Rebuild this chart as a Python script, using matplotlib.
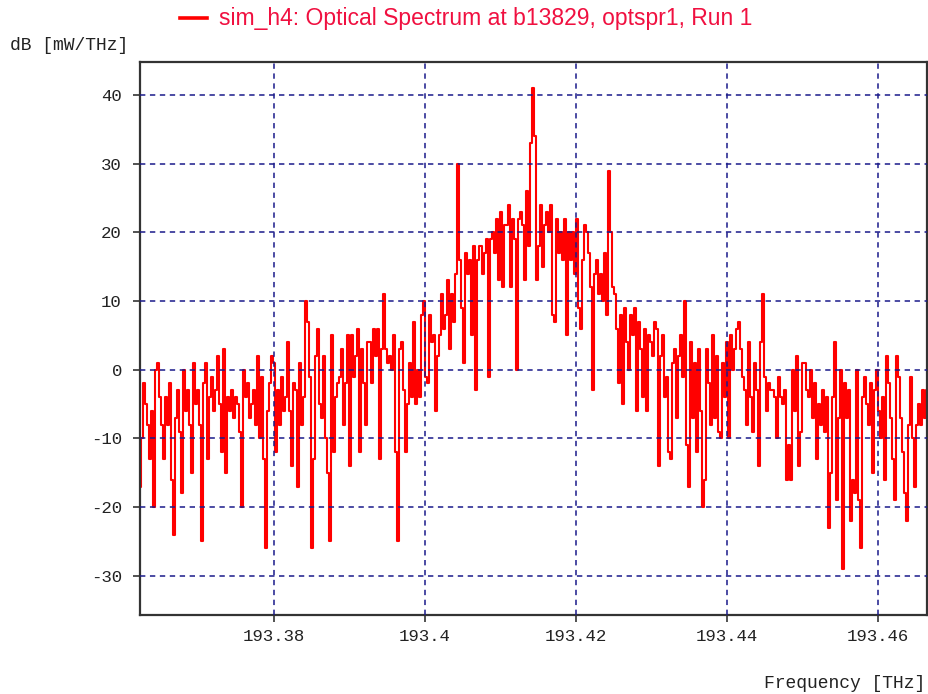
import numpy as np
import matplotlib
matplotlib.use("Agg")
import matplotlib.pyplot as plt
from matplotlib.lines import Line2D

# ---- data ----
f_start = 193.3623     # THz, first sample
f_step = 0.000265      # THz, sample spacing

power_seg1 = [-17, -10, -2, -5, -8, -13, -6, -20, 0, 1,
              -4, -8, -13, -4, -8, -2, -16, -24, -7, -3,
              -9, -18, 0, -6, -3, -8, -15, 1, -5, -3,
              -8, -25, -2, 1, -13, -4, -1, -6, -3, 2,
              -5, -12, 3, -15, -4, -6, -3, -7, -4, -5,
              -9, -20, 0, -4, -2, -7, -5, -3, -8, 2,
              -10, -1, -13, -26, -6, -2, 2, 1]
power_seg2 = [-12, -3, -8, -1, -6, -4, 4, -6, -14, -2,
              -3, -17, 1, -8, -4, 10, 7, -1, -26, -13,
              2, 6, -5, -7, 2, -10, -15, -25, 5, -12,
              -4, -2, -1, 3, -8, -2, 5, -14, 5, -1,
              2, 6, -12, 3, -2, -8, 4, 4, -2, 6,
              2, 6, -13, 3, 11, 3, 1, 2, 0, 5,
              -12, -25, 3, 4, -3, -12, -5]
power_seg3 = [1, -4, 7, -5, 0, -4, 8, 10, -1, -2,
              8, 4, 5, -6, 2, 5, 11, 6, 8, 13,
              3, 11, 7, 14, 30, 16, 9, 1, 17, 14,
              16, 5, 18, -3, 16, 18, 14, 17, 19, -1,
              19, 20, 17, 22, 13, 23, 12, 21, 21, 24,
              12, 22, 19, 0, 22, 23, 21]
power_seg4 = [13, 26, 18, 33, 41, 34, 13, 18, 24, 15,
              21, 23, 20, 24, 8, 7, 22, 17, 20, 16,
              22, 5, 20, 16, 20, 14, 22, 9, 6, 16,
              21, 20, 17, 12, -3, 14, 16, 11, 14, 10,
              17, 8, 29, 20, 12, 11, 6, -2, 8, -5,
              9, 4, 0, 8, 5, 9, -6, 7, 3, -4,
              6, -6, 5, 4, 2, 7]
power_seg5 = [6, -14, 2, 5, -4, -1, -12, -13, 1, 3,
              -7, 2, 5, -1, 10, -11, -17, 4, -7, 1,
              -12, 3, -6, -20, -16, 3, -2, -8, 5, -7,
              2, -9, -10, 1, -4, 4, -10, 5, 0, 3,
              6, 7, 3, -1, -3, -8, 4, -4, -9, 1,
              -3, -14, 4, 11, -1, -6, -2, -3, -3, -4,
              -10, -1, -4, -5]
power_seg6 = [-3, -16, -11, -16, 0, -6, 2, -14, -9, 1,
              1, -3, -4, 0, -7, -2, -13, -5, -8, -3,
              -9, -4, -23, -15, -4, 4, -19, -7, 0, -29,
              -2, -7, -3, -22, -16, -18, 0, -19, -26, -4,
              -1, -5, -8, -2, -15, -3, 0, -6, -10, -4,
              -16, 2, -2, -7, -13, -19, 2, -1, -7, -12,
              -18, -22, -8, -1, -10, -17, -8, -5, -8, -3,
              -7, -3]

x_ticks = [193.38, 193.40, 193.42, 193.44, 193.46]
x_tick_labels = ["193.38", "193.4", "193.42", "193.44", "193.46"]
y_ticks = [-30, -20, -10, 0, 10, 20, 30, 40]
y_tick_labels = ["-30", "-20", "-10", "0", "10", "20", "30", "40"]

title_text = "sim_h4: Optical Spectrum at b13829, optspr1, Run 1"
y_label = "dB [mW/THz]"
x_label = "Frequency [THz]"

# ---- build series ----
power = np.array(power_seg1 + power_seg2 + power_seg3 +
                 power_seg4 + power_seg5 + power_seg6, dtype=float)
freq = f_start + f_step * np.arange(len(power))

# ---- figure ----
fig = plt.figure(figsize=(9.29, 6.94), dpi=100)
fig.patch.set_facecolor("white")
ax = fig.add_axes([140 / 929, 79 / 694, 787 / 929, 553 / 694])

ax.plot(freq, power, color="#ff0000", lw=1.5, drawstyle="steps-mid",
        zorder=2)

ax.set_xlim(193.36225, 193.46649)
ax.set_ylim(-35.7, 44.8)

ax.set_xticks(x_ticks)
ax.set_xticklabels(x_tick_labels)
ax.set_yticks(y_ticks)
ax.set_yticklabels(y_tick_labels)

mono = "Liberation Mono"
ax.tick_params(axis="both", direction="out", length=5, width=1.2,
               color="#333333", labelsize=12.5)
ax.tick_params(axis="y", pad=8)
ax.tick_params(axis="x", pad=5)
for lab in ax.get_xticklabels() + ax.get_yticklabels():
    lab.set_fontfamily(mono)
    lab.set_color("#222222")

ax.set_axisbelow(False)
ax.grid(True, color="#1a1a8a", lw=1.1, linestyle=(0, (3.5, 3.0)), zorder=3)

for side in ["left", "bottom", "top", "right"]:
    ax.spines[side].set_color("#333333")
    ax.spines[side].set_linewidth(1.6)

# legend-style title
fig.add_artist(Line2D([180 / 929, 207 / 929], [1 - 18 / 694, 1 - 18 / 694],
                      color="#ff0000", lw=2.6, transform=fig.transFigure))
fig.text(219 / 929, 1 - 19 / 694, title_text, color="#f01040",
         fontsize=16.5, family="Liberation Sans", ha="left", va="center")

fig.text(10 / 929, 1 - 45 / 694, y_label, fontsize=13, family=mono,
         color="#222222", ha="left", va="center")
fig.text(925 / 929, 1 - 683 / 694, x_label, fontsize=13, family=mono,
         color="#222222", ha="right", va="center")

fig.savefig("out.png", dpi=100, facecolor="white")
